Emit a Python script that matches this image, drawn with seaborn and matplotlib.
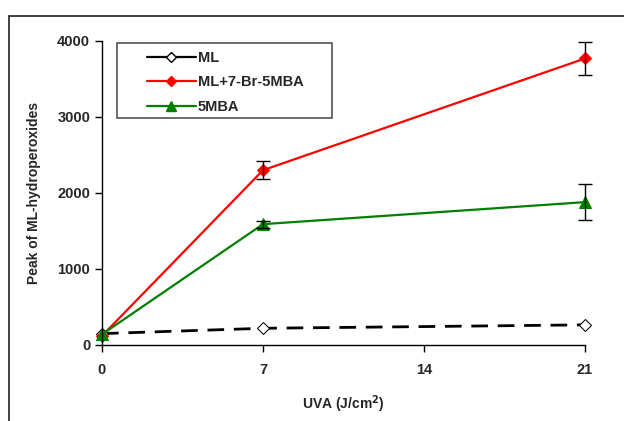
import matplotlib
matplotlib.use("Agg")
import matplotlib.pyplot as plt
import seaborn as sns
import pandas as pd
from matplotlib.lines import Line2D
from matplotlib.patches import Rectangle

# Data
uva = [0, 7, 21]
ml = [150, 220, 265]
ml_br = [120, 2300, 3770]
ml_br_err = [0, 115, 220]
mba = [140, 1590, 1880]
mba_err = [0, 45, 235]
series_names = ['ML', 'ML+7-Br-5MBA', '5MBA']

sns.set_style("white")
plt.rcParams['font.family'] = ['Liberation Sans', 'DejaVu Sans']
plt.rcParams['font.weight'] = 'bold'

df = pd.DataFrame({
    'uva': uva * 3,
    'value': ml + ml_br + mba,
    'series': [series_names[0]] * 3 + [series_names[1]] * 3 + [series_names[2]] * 3,
})

fig = plt.figure(figsize=(6.24, 4.21), dpi=100)
ax = fig.add_axes([102 / 624, 1 - 345 / 421, (585 - 102) / 624, (345 - 41) / 421])

# outer frame of the original figure
fig.patches.append(Rectangle((9 / 624, -0.05), 1.0, 1 - 16 / 421 + 0.05,
                             transform=fig.transFigure, fill=False,
                             edgecolor='#333333', linewidth=1.3))

palette = {'ML': 'black', 'ML+7-Br-5MBA': '#ff0000', '5MBA': '#008000'}
sns.lineplot(data=df, x='uva', y='value', hue='series', style='series',
             palette=palette,
             dashes={'ML': (6, 3.5), 'ML+7-Br-5MBA': '', '5MBA': ''},
             markers={'ML': 'D', 'ML+7-Br-5MBA': 'D', '5MBA': '^'},
             linewidth=1.6, markersize=6.5, legend=False, ax=ax)

for line in ax.lines:
    line.set_clip_on(False)
# open diamonds and thicker dashes for ML
ax.lines[0].set_markerfacecolor('white')
ax.lines[0].set_markeredgecolor('black')
ax.lines[0].set_markersize(6)
ax.lines[0].set_linewidth(2)
ax.lines[1].set_markeredgecolor('#ff0000')
ax.lines[1].set_markersize(6)
ax.lines[2].set_markeredgecolor('#008000')
ax.lines[2].set_markersize(8)

ax.errorbar(uva[1:], ml_br[1:], yerr=ml_br_err[1:], fmt='none', ecolor='black',
            elinewidth=1, capsize=5, capthick=1, clip_on=False)
ax.errorbar(uva[1:], mba[1:], yerr=mba_err[1:], fmt='none', ecolor='black',
            elinewidth=1, capsize=5, capthick=1, clip_on=False)

ax.set_xlim(0, 21)
ax.set_ylim(0, 4000)
ax.set_xticks([0, 7, 14, 21])
ax.set_yticks([0, 1000, 2000, 3000, 4000])
ax.tick_params(axis='both', direction='out', length=5, width=1, color='black',
               labelsize=10.5, bottom=True, left=True)
for lab in ax.get_xticklabels() + ax.get_yticklabels():
    lab.set_fontweight('bold')
ax.tick_params(axis='x', pad=8)
sns.despine(ax=ax)
for s in ['left', 'bottom']:
    ax.spines[s].set_color('black')
    ax.spines[s].set_linewidth(1)

ax.set_xlabel('UVA (J/cm$^{\\mathbf{2}}$)', fontsize=10, fontweight='bold', labelpad=12)
ax.set_ylabel('Peak of ML-hydroperoxides', fontsize=10, fontweight='bold', labelpad=12)

# legend: entries without frame, box drawn separately to get the wide side padding
handles = [
    Line2D([], [], color='black', lw=1.6, marker='D', markersize=5,
           markerfacecolor='white', markeredgecolor='black'),
    Line2D([], [], color='#ff0000', lw=1.6, marker='D', markersize=5.5),
    Line2D([], [], color='#008000', lw=1.6, marker='^', markersize=7),
]
fig.legend(handles, series_names, loc='upper left',
           bbox_to_anchor=(147 / 624, 1 - 51 / 421), frameon=False,
           handlelength=3.35, handletextpad=0.15, borderpad=0, borderaxespad=0,
           labelspacing=0.72, prop={'weight': 'bold', 'size': 10.5})
fig.patches.append(Rectangle((117 / 624, 1 - 118 / 421), 215 / 624, 75 / 421,
                             transform=fig.transFigure, fill=False,
                             edgecolor='#444444', linewidth=1.1))

fig.savefig('out.png', dpi=100)
